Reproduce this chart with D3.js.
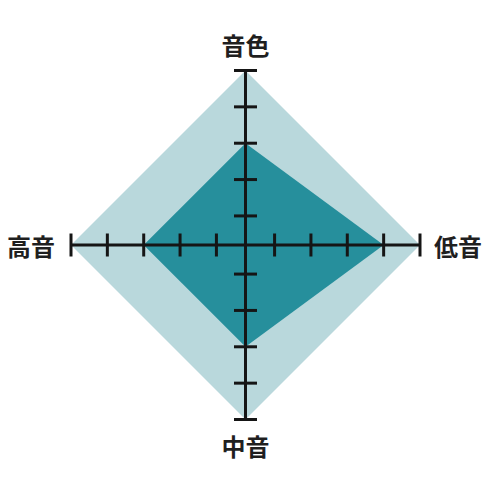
<!DOCTYPE html>
<html lang="ja">
<head>
    <meta charset="UTF-8">
    <title>Radar</title>
    <script src="https://d3js.org/d3.v7.min.js"></script>
    <style>
        body { margin: 0; background: #ffffff; }
        .label { font-family: 'Noto Sans CJK JP', sans-serif; font-size: 24px; font-weight: 700; fill: #1f1f1f; }
        .axis-line { stroke: #151515; stroke-width: 3; }
    </style>
</head>
<body>
    <svg width="491" height="491"></svg>
    <script>
        // 軸の名前 (上, 右, 下, 左)
        const axes = ["音色", "低音", "中音", "高音"];
        const values = [3, 4, 3, 3];
        const maxValues = [5, 5, 5, 5];
        const tickValues = [1, 2, 3, 4, 5];

        const cx = 245.5, cy = 245;
        const R = 174.5;
        const tickLen = 11.5;

        const svg = d3.select("svg");

        // 中心は 0.2 付近、目盛り 1..5
        const r = d3.scaleLinear().domain([0.2, 5]).range([0, R]);

        // 上から時計回り
        const angle = i => -Math.PI / 2 + i * Math.PI / 2;
        const pt = (v, i) => [cx + r(v) * Math.cos(angle(i)), cy + r(v) * Math.sin(angle(i))];

        const line = d3.line().curve(d3.curveLinearClosed);

        svg.append("path")
            .attr("d", line(maxValues.map(pt)))
            .attr("fill", "#b9d8dc");

        svg.append("path")
            .attr("d", line(values.map(pt)))
            .attr("fill", "#268f9c");

        // 軸
        axes.forEach((name, i) => {
            const [x2, y2] = pt(5, i);
            svg.append("line")
                .attr("class", "axis-line")
                .attr("x1", cx).attr("y1", cy)
                .attr("x2", x2).attr("y2", y2);

            const a = angle(i);
            const nx = -Math.sin(a), ny = Math.cos(a);
            svg.selectAll(null)
                .data(tickValues)
                .enter()
                .append("line")
                .attr("class", "axis-line")
                .attr("x1", d => pt(d, i)[0] - nx * tickLen)
                .attr("y1", d => pt(d, i)[1] - ny * tickLen)
                .attr("x2", d => pt(d, i)[0] + nx * tickLen)
                .attr("y2", d => pt(d, i)[1] + ny * tickLen);
        });

        // ラベル
        const labelPos = [
            { x: cx, y: 44, anchor: "middle" },
            { x: 434, y: cy, anchor: "start" },
            { x: cx, y: 445, anchor: "middle" },
            { x: 55, y: cy, anchor: "end" }
        ];
        svg.selectAll(".label")
            .data(axes)
            .enter()
            .append("text")
            .attr("class", "label")
            .attr("x", (d, i) => labelPos[i].x)
            .attr("y", (d, i) => labelPos[i].y)
            .attr("text-anchor", (d, i) => labelPos[i].anchor)
            .attr("dominant-baseline", "central")
            .text(d => d);
    </script>
</body>
</html>
